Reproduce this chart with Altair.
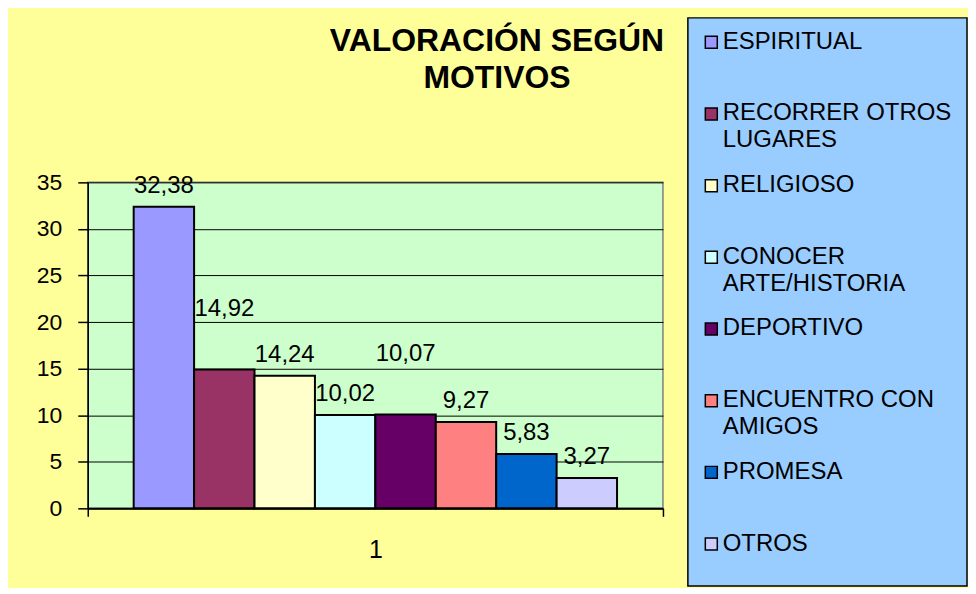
import altair as alt
import pandas as pd

FONT = "Liberation Sans"

# ---- data ----
motivos = ["ESPIRITUAL", "RECORRER OTROS LUGARES", "RELIGIOSO", "CONOCER ARTE/HISTORIA",
           "DEPORTIVO", "ENCUENTRO CON AMIGOS", "PROMESA", "OTROS"]
leyenda = ["ESPIRITUAL", "RECORRER OTROS\nLUGARES", "RELIGIOSO", "CONOCER\nARTE/HISTORIA",
           "DEPORTIVO", "ENCUENTRO CON\nAMIGOS", "PROMESA", "OTROS"]
valores = [32.38, 14.92, 14.24, 10.02, 10.07, 9.27, 5.83, 3.27]
colores = ["#9999FF", "#993366", "#FFFFCC", "#CCFFFF", "#660066", "#FF8080", "#0066CC", "#CCCCFF"]
categoria = "1"
y_ticks = [0, 5, 10, 15, 20, 25, 30, 35]
titulo = ["VALORACIÓN SEGÚN", "MOTIVOS"]
# labels that the original chart lifted higher to avoid overlapping neighbours
etiquetas_elevadas = ["RECORRER OTROS LUGARES", "DEPORTIVO"]

df = pd.DataFrame({
    "motivo": motivos,
    "leyenda": leyenda,
    "valor": valores,
    "etiqueta": [f"{v:.2f}".replace(".", ",") for v in valores],
    "grupo": categoria,
    "orden": list(range(len(motivos))),
})

color_scale = alt.Scale(domain=motivos, range=colores)

x_enc = alt.X("grupo:N", title=None,
              scale=alt.Scale(paddingInner=0, paddingOuter=0),
              axis=alt.Axis(labelAngle=0, labelFontSize=25, labelPadding=21, labelFont=FONT,
                            labelColor="black", tickBand="extent", tickSize=8,
                            tickColor="black", tickWidth=1.5, domainColor="black",
                            domainWidth=2))
xoff_enc = alt.XOffset("motivo:N", sort=motivos,
                       scale=alt.Scale(paddingInner=0, paddingOuter=0.76))
y_enc = alt.Y("valor:Q", title=None,
              scale=alt.Scale(domain=[0, 35], nice=False),
              axis=alt.Axis(values=y_ticks, labelFontSize=23, labelPadding=16, labelFont=FONT,
                            labelColor="black", tickSize=10, tickColor="black", tickWidth=1.5,
                            domainColor="black", domainWidth=1.5, gridColor="black",
                            gridWidth=1, gridOpacity=1))

base = alt.Chart(df)
bars = base.mark_bar(stroke="black", strokeWidth=2).encode(
    x=x_enc, xOffset=xoff_enc, y=y_enc,
    color=alt.Color("motivo:N", scale=color_scale, legend=None),
)
labels = base.transform_filter(
    ~alt.FieldOneOfPredicate(field="motivo", oneOf=etiquetas_elevadas)
).mark_text(baseline="alphabetic", dy=-14, fontSize=24, font=FONT, color="black").encode(
    x=x_enc, xOffset=xoff_enc, y=y_enc, text="etiqueta:N",
)
labels_up = base.transform_filter(
    alt.FieldOneOfPredicate(field="motivo", oneOf=etiquetas_elevadas)
).mark_text(baseline="alphabetic", dy=-54, fontSize=24, font=FONT, color="black").encode(
    x=x_enc, xOffset=xoff_enc, y=y_enc, text="etiqueta:N",
)

plot = alt.layer(bars, labels, labels_up).properties(
    width=577, height=327,
    view=alt.ViewBackground(fill="#CCFFCC", stroke="#808080", strokeWidth=1.5),
    title=alt.TitleParams(text=titulo, fontSize=32, fontWeight="bold", font=FONT,
                          lineHeight=37, anchor="middle", dx=122, offset=77,
                          color="black"),
)

spacer = alt.Chart(pd.DataFrame({"v": [0]})).mark_point(opacity=0).properties(
    width=577, height=4, view=alt.ViewBackground(stroke="transparent"))

left = alt.vconcat(spacer, plot, spacing=0)

ly = alt.Y("orden:Q", axis=None,
           scale=alt.Scale(domain=[-0.341, 7.587], reverse=True, nice=False, zero=False))
squares = alt.Chart(df).mark_square(size=144, stroke="black", strokeWidth=1.5,
                                    opacity=1).encode(
    x=alt.value(23.5), y=ly,
    color=alt.Color("motivo:N", scale=color_scale, legend=None),
)
texts = alt.Chart(df).mark_text(align="left", baseline="alphabetic", dy=6.5, fontSize=24,
                                font=FONT, lineBreak="\n", lineHeight=27,
                                color="black").encode(
    x=alt.value(35), y=ly, text="leyenda:N",
)
legend = alt.layer(squares, texts).properties(
    width=280, height=570,
    view=alt.ViewBackground(fill="#99CCFF", stroke="black", strokeWidth=1.5),
)

chart = alt.hconcat(left, legend, spacing=22).properties(
    padding={"left": 27, "top": 7, "right": 0, "bottom": 0},
    background="#FFFF99",
).configure_view(stroke="transparent").configure(font=FONT)

chart.save("out.html", embed_options={"renderer": "svg", "actions": False})
